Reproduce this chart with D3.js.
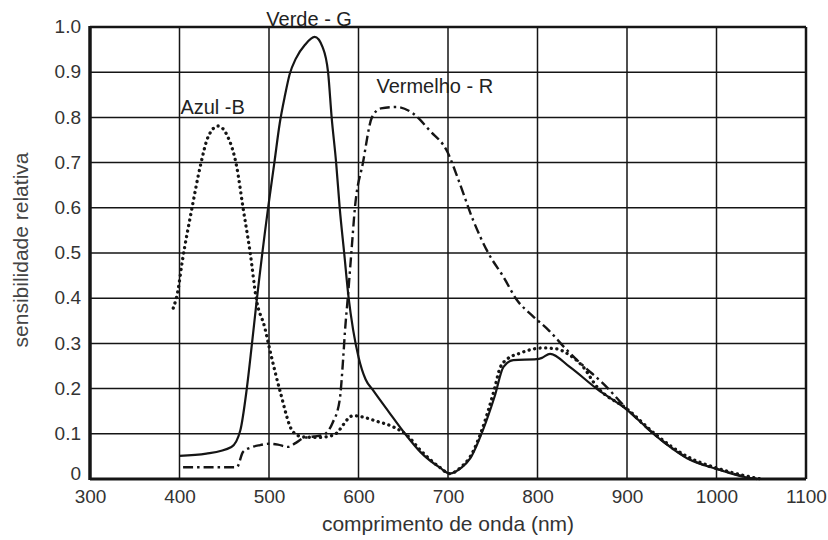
<!DOCTYPE html>
<html>
<head>
<meta charset="utf-8">
<script src="https://cdn.jsdelivr.net/npm/d3@7"></script>
<style>
  body { margin: 0; background: #fff; }
  svg { display: block; font-family: "Liberation Sans", Arial, sans-serif; }
</style>
</head>
<body>
<div id="chart"></div>
<script>
// tick values
var xTicks = [300, 400, 500, 600, 700, 800, 900, 1000, 1100]
var yTicks = [0, 0.1, 0.2, 0.3, 0.4, 0.5, 0.6, 0.7, 0.8, 0.9, 1.0]

// Azul - B (dotted)
var blueNm = [393, 398, 403, 414, 423, 432, 443, 454, 464, 471, 479, 486, 495, 501, 512, 527, 538, 555, 572, 594, 605, 620, 639, 654, 670, 690, 702, 715, 725, 739, 752, 758, 766, 780, 806, 821, 836, 851, 866, 900, 933, 967, 1004, 1030, 1050]
var blueVal = [0.378, 0.414, 0.48, 0.60, 0.69, 0.757, 0.781, 0.757, 0.69, 0.60, 0.50, 0.396, 0.337, 0.285, 0.197, 0.104, 0.093, 0.092, 0.097, 0.14, 0.137, 0.128, 0.115, 0.097, 0.062, 0.027, 0.012, 0.027, 0.05, 0.115, 0.20, 0.245, 0.265, 0.278, 0.29, 0.288, 0.274, 0.248, 0.205, 0.155, 0.097, 0.05, 0.022, 0.008, 0]

// Verde - G (solid)
var greenNm = [400, 430, 458, 468, 475, 481, 486, 499, 506, 512, 518, 523, 530, 540, 551, 560, 566, 570, 575, 579, 584, 589, 594, 600, 608, 616, 634, 652, 669, 691, 702, 715, 725, 739, 752, 762, 773, 799, 805, 814, 836, 866, 900, 933, 967, 1004, 1030, 1045]
var greenVal = [0.051, 0.056, 0.071, 0.108, 0.197, 0.30, 0.39, 0.60, 0.70, 0.787, 0.85, 0.895, 0.93, 0.96, 0.978, 0.955, 0.90, 0.80, 0.70, 0.60, 0.50, 0.40, 0.33, 0.27, 0.22, 0.197, 0.148, 0.10, 0.06, 0.025, 0.012, 0.025, 0.046, 0.108, 0.182, 0.248, 0.263, 0.265, 0.268, 0.277, 0.248, 0.20, 0.153, 0.094, 0.046, 0.02, 0.005, 0]

// Vermelho - R (dash-dot)
var redNm = [404, 430, 464, 471, 480, 490, 500, 510, 521, 530, 538, 550, 560, 571, 579, 583, 585, 588, 592, 596, 605, 615, 625, 643, 660, 680, 699, 712, 728, 745, 762, 777, 795, 812, 833, 848, 874, 900, 933, 967, 1004, 1030, 1045]
var redVal = [0.026, 0.026, 0.026, 0.06, 0.07, 0.075, 0.078, 0.076, 0.071, 0.08, 0.09, 0.094, 0.097, 0.124, 0.175, 0.27, 0.33, 0.40, 0.50, 0.60, 0.70, 0.80, 0.82, 0.823, 0.81, 0.77, 0.725, 0.66, 0.573, 0.50, 0.447, 0.396, 0.36, 0.33, 0.285, 0.256, 0.21, 0.155, 0.095, 0.047, 0.02, 0.006, 0]

var W = 828, H = 540
var margin = {top: 27, right: 22, bottom: 61, left: 90}
var width = W - margin.left - margin.right
var height = H - margin.top - margin.bottom
var ink = "#151515"

var svg = d3.select("#chart").append("svg")
  .attr("width", W)
  .attr("height", H)

var g = svg.append("g")
  .attr("transform", "translate(" + margin.left + "," + margin.top + ")")

var x = d3.scaleLinear().domain([300, 1100]).range([0, width])
var y = d3.scaleLinear().domain([0, 1]).range([height, 0])

// grid
g.append("g").selectAll("line").data(xTicks.slice(1, -1)).join("line")
  .attr("x1", d => x(d)).attr("x2", d => x(d))
  .attr("y1", 0).attr("y2", height)
  .attr("stroke", ink).attr("stroke-width", 1.5)

g.append("g").selectAll("line").data(yTicks.slice(1, -1)).join("line")
  .attr("x1", 0).attr("x2", width)
  .attr("y1", d => y(d)).attr("y2", d => y(d))
  .attr("stroke", ink).attr("stroke-width", 1.5)

// frame
g.append("line").attr("x1", 0).attr("x2", width).attr("y1", 0).attr("y2", 0)
  .attr("stroke", ink).attr("stroke-width", 2.5)
g.append("line").attr("x1", width).attr("x2", width).attr("y1", 0).attr("y2", height)
  .attr("stroke", ink).attr("stroke-width", 2.5)
g.append("line").attr("x1", 0).attr("x2", width).attr("y1", height).attr("y2", height)
  .attr("stroke", ink).attr("stroke-width", 3)
g.append("line").attr("x1", 0).attr("x2", 0).attr("y1", -1).attr("y2", height + 1)
  .attr("stroke", ink).attr("stroke-width", 3.5)

// axes (labels only)
var xAxis = d3.axisBottom(x).tickValues(xTicks).tickSize(0).tickPadding(11)
  .tickFormat(d3.format("d"))
var yAxis = d3.axisLeft(y).tickValues(yTicks).tickSize(0).tickPadding(9)
  .tickFormat(d => d === 0 ? "0" : d3.format(".1f")(d))

var gx = g.append("g").attr("transform", "translate(0," + height + ")").call(xAxis)
var gy = g.append("g").call(yAxis)
gx.select(".domain").remove()
gy.select(".domain").remove()
svg.selectAll(".tick text")
  .attr("font-family", "Liberation Sans, Arial, sans-serif")
  .attr("font-size", 19)
  .attr("fill", "#333")
gy.selectAll(".tick text").attr("dy", d => d === 0 ? "0.05em" : "0.3em")

// axis titles
svg.append("text")
  .attr("x", margin.left + x(700))
  .attr("y", 531)
  .attr("text-anchor", "middle")
  .attr("font-size", 21)
  .attr("fill", "#333")
  .text("comprimento de onda (nm)")

svg.append("text")
  .attr("transform", "translate(28," + 250 + ") rotate(-90)")
  .attr("text-anchor", "middle")
  .attr("font-size", 21)
  .attr("fill", "#444")
  .text("sensibilidade relativa")

// curves
var line = d3.line()
  .x(d => x(d[0]))
  .y(d => y(d[1]))
  .curve(d3.curveMonotoneX)

var series = [
  {nm: greenNm, val: greenVal, dash: null, w: 2.2, cap: "butt"},
  {nm: redNm, val: redVal, dash: "10,4,2.5,4", w: 2.4, cap: "butt"},
  {nm: blueNm, val: blueVal, dash: "0.1,5.5", w: 3.3, cap: "round"}
]

series.forEach(function(s) {
  g.append("path")
    .datum(d3.zip(s.nm, s.val))
    .attr("d", line)
    .attr("fill", "none")
    .attr("stroke", ink)
    .attr("stroke-width", s.w)
    .attr("stroke-linecap", s.cap)
    .attr("stroke-dasharray", s.dash)
})

// series labels
var labels = [
  {t: "Verde - G", nm: 497, v: 1.003},
  {t: "Azul -B", nm: 401, v: 0.808},
  {t: "Vermelho - R", nm: 620, v: 0.855}
]
g.selectAll(".lbl").data(labels).join("text")
  .attr("class", "lbl")
  .attr("x", d => x(d.nm))
  .attr("y", d => y(d.v))
  .attr("font-size", 20)
  .attr("fill", "#222")
  .text(d => d.t)
</script>
</body>
</html>
